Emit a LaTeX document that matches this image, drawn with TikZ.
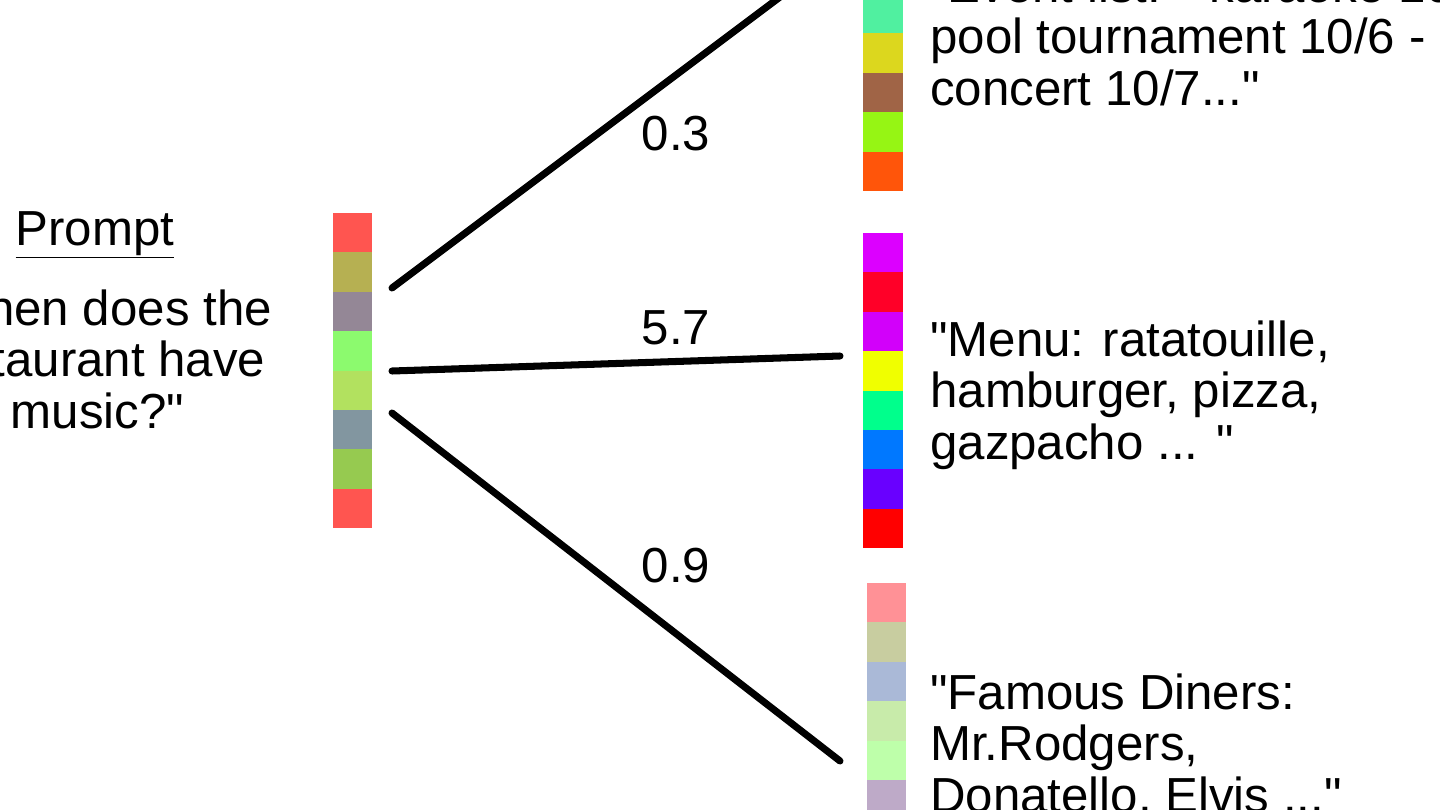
\documentclass[tikz,border=0pt]{standalone}
\usepackage{fontspec}
\setmainfont{Liberation Sans}
\usetikzlibrary{positioning}
\newcommand{\dq}{\textquotedbl}
% query embedding
\definecolor{qa}{RGB}{255,85,80}
\definecolor{qb}{RGB}{182,176,82}
\definecolor{qc}{RGB}{148,135,150}
\definecolor{qd}{RGB}{140,250,110}
\definecolor{qe}{RGB}{178,225,95}
\definecolor{qf}{RGB}{130,150,160}
\definecolor{qg}{RGB}{150,202,80}
% event document
\definecolor{ea}{RGB}{80,240,160}
\definecolor{eb}{RGB}{220,215,30}
\definecolor{ec}{RGB}{160,100,70}
\definecolor{ed}{RGB}{150,245,20}
\definecolor{ee}{RGB}{255,85,10}
% menu document
\definecolor{ma}{RGB}{220,0,255}
\definecolor{mb}{RGB}{255,0,40}
\definecolor{mc}{RGB}{210,0,250}
\definecolor{md}{RGB}{240,255,0}
\definecolor{me}{RGB}{0,255,140}
\definecolor{mf}{RGB}{0,120,255}
\definecolor{mg}{RGB}{105,0,255}
\definecolor{mh}{RGB}{255,0,0}
% diners document
\definecolor{fa}{RGB}{255,145,150}
\definecolor{fb}{RGB}{200,205,160}
\definecolor{fc}{RGB}{170,185,215}
\definecolor{fd}{RGB}{200,235,170}
\definecolor{fe}{RGB}{190,255,170}
\definecolor{ff}{RGB}{190,170,200}

\begin{document}
\begin{tikzpicture}[x=0.025cm,y=-0.025cm,
    link/.style={line width=5pt,line cap=round},
    txt/.style={font=\fontsize{35}{36.3}\selectfont,inner sep=0pt,align=left,anchor=base west},
    weight/.style={font=\fontsize{35}{36.3}\selectfont,inner sep=0pt}]
    \useasboundingbox (0,0) rectangle (1440,809);
    \clip (0,0) rectangle (1440,809);
    % embedding bars
    \foreach \c [count=\i from 0] in {qa,qb,qc,qd,qe,qf,qg,qa}{\fill[\c] (333,213+39.4*\i) rectangle (372,252.4+39.4*\i);}
    \foreach \c [count=\i from 0] in {ea,eb,ec,ed,ee}{\fill[\c] (863,-6+39.4*\i) rectangle (903,33.4+39.4*\i);}
    \fill[ea] (863,-20) rectangle (903,0);
    \foreach \c [count=\i from 0] in {ma,mb,mc,md,me,mf,mg,mh}{\fill[\c] (863,233+39.4*\i) rectangle (903,272.4+39.4*\i);}
    \foreach \c [count=\i from 0] in {fa,fb,fc,fd,fe,ff}{\fill[\c] (867,583+39.4*\i) rectangle (906,622.4+39.4*\i);}
    % texts (anchored at the baseline of their last line)
    \node[txt,anchor=base] (title) at (95,245) {\underline{Prompt}};
    \node[txt] (question) at (-77,428) {\dq When does the\\restaurant have\\live music?\dq};
    \node[txt] (event) at (930,105) {\dq Event list: - karaoke 10/5 -\\pool tournament 10/6 -\\concert 10/7...\dq};
    \node[txt] (menu) at (930,459) {\dq Menu: ratatouille,\\hamburger, pizza,\\gazpacho ... \dq};
    \node[txt] (diners) at (930,812) {\dq Famous Diners:\\Mr.Rodgers,\\Donatello, Elvis ...\dq};
    % similarity links
    \coordinate (qtop) at (392,288);
    \coordinate (qmid) at (392,371);
    \coordinate (qbot) at (392,413);
    \coordinate (devent) at (840,-48);
    \coordinate (dmenu) at (840,356);
    \coordinate (ddiners) at (840,761);
    \draw[link] (qtop) -- (devent);
    \draw[link] (qmid) -- (dmenu);
    \draw[link] (qbot) -- (ddiners);
    \node[weight] (w1) at (676,134) {0.3};
    \node[weight] (w2) at (676,328) {5.7};
    \node[weight] (w3) at (676,566) {0.9};
  \end{tikzpicture}
\end{document}
